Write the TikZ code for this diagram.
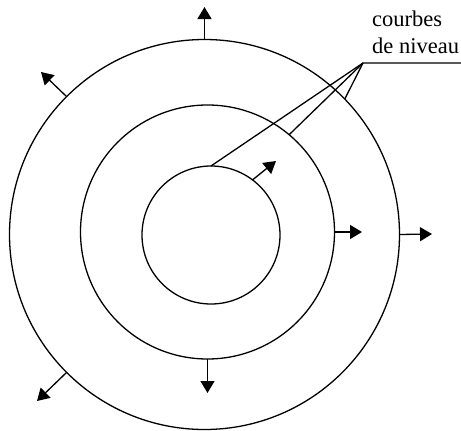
\documentclass[tikz,border=0pt]{standalone}
\usepackage{fontspec}
\setmainfont{Liberation Serif}
\usetikzlibrary{arrows.meta}
\begin{document}
\begin{tikzpicture}[x=1pt,y=-1pt,
  ring/.style={circle,draw,line width=1.3pt,inner sep=0pt,outer sep=0pt},
  arr/.style={line width=1.3pt,-{Triangle[length=12pt,width=14pt]}},
  leader/.style={line width=1.3pt},
  lbl/.style={anchor=base west,inner sep=0pt,font=\fontsize{22.5}{26}\selectfont}]
\useasboundingbox (0,0) rectangle (461,431);
\node[ring,minimum size=138pt] (c1) at (211,235) {};
\node[ring,minimum size=254pt] (c2) at (207.5,232) {};
\node[ring,minimum size=390pt] (c3) at (204.5,234.5) {};
% arrow tips
\coordinate (t1) at (204.5,7);
\coordinate (t2) at (41,72);
\coordinate (t3) at (432,234);
\coordinate (t4) at (37,401);
\coordinate (t5) at (362,232);
\coordinate (t6) at (207.5,393);
\coordinate (t7) at (276,161);
\draw[arr] (c3.90) -- (t1);
\draw[arr] (c3.135) -- (t2);
\draw[arr] (c3.0) -- (t3);
\draw[arr] (c3.225) -- (t4);
\draw[arr] (c2.0) -- (t5);
\draw[arr] (c2.270) -- (t6);
\draw[arr] (c1.53) -- (t7);
% label
\node[lbl] (l1) at (372,27) {courbes};
\node[lbl] (l2) at (372,53) {de niveau};
\coordinate (apex) at (363,63);
\coordinate (lend) at (461,63);
\draw[leader] (lend) -- (apex) -- (c1.90);
\draw[leader] (apex) -- (c2.50);
\draw[leader] (apex) -- (c3.44);
\end{tikzpicture}
\end{document}
